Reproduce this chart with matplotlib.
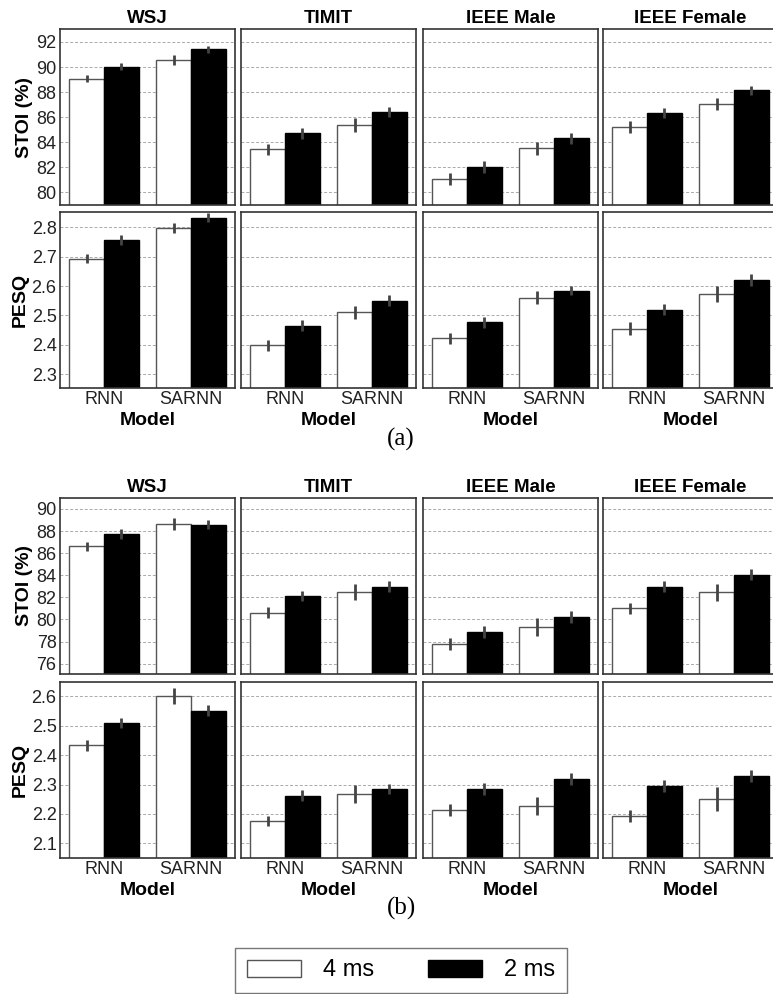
import numpy as np
import matplotlib
matplotlib.use("Agg")
import matplotlib.pyplot as plt
from matplotlib.patches import Patch

plt.rcParams['font.family'] = ['Liberation Sans', 'DejaVu Sans']

datasets = ['WSJ', 'TIMIT', 'IEEE Male', 'IEEE Female']
models = ['RNN', 'SARNN']

# (a) values per dataset: [RNN, SARNN]
a_stoi_4ms = [[89.08, 90.55], [83.44, 85.38], [81.08, 83.52], [85.22, 87.07]]
a_stoi_2ms = [[90.03, 91.42], [84.71, 86.41], [82.01, 84.31], [86.33, 88.16]]
a_stoi_err_4ms = [[0.3, 0.4], [0.45, 0.53], [0.45, 0.52], [0.45, 0.49]]
a_stoi_err_2ms = [[0.3, 0.27], [0.42, 0.42], [0.48, 0.44], [0.4, 0.36]]

a_pesq_4ms = [[2.693, 2.797], [2.399, 2.511], [2.422, 2.561], [2.455, 2.572]]
a_pesq_2ms = [[2.757, 2.833], [2.465, 2.550], [2.476, 2.584], [2.520, 2.620]]
a_pesq_err_4ms = [[0.015, 0.018], [0.019, 0.022], [0.019, 0.023], [0.021, 0.027]]
a_pesq_err_2ms = [[0.016, 0.016], [0.019, 0.018], [0.019, 0.016], [0.02, 0.02]]

# (b)
b_stoi_4ms = [[86.62, 88.64], [80.62, 82.46], [77.76, 79.32], [81.01, 82.46]]
b_stoi_2ms = [[87.71, 88.58], [82.15, 82.97], [78.90, 80.23], [82.97, 84.06]]
b_stoi_err_4ms = [[0.42, 0.53], [0.5, 0.71], [0.54, 0.78], [0.51, 0.78]]
b_stoi_err_2ms = [[0.45, 0.42], [0.47, 0.47], [0.54, 0.56], [0.5, 0.5]]

b_pesq_4ms = [[2.433, 2.601], [2.176, 2.268], [2.214, 2.227], [2.193, 2.251]]
b_pesq_2ms = [[2.509, 2.551], [2.262, 2.286], [2.286, 2.319], [2.296, 2.330]]
b_pesq_err_4ms = [[0.019, 0.026], [0.017, 0.03], [0.02, 0.032], [0.02, 0.04]]
b_pesq_err_2ms = [[0.018, 0.018], [0.018, 0.017], [0.02, 0.02], [0.02, 0.02]]

W, H = 773, 994
fig = plt.figure(figsize=(W / 100, H / 100), dpi=100)

col_x = [60, 241, 423, 603]
ax_w = 175


def add_ax(x0, y_top, y_bot):
    return fig.add_axes([x0 / W, 1 - y_bot / H, ax_w / W, (y_bot - y_top) / H])


def draw_row(y_top, y_bot, v4, v2, e4, e2, ylim, yticks, fmt, ylabel, top, bottom):
    for j, name in enumerate(datasets):
        ax = add_ax(col_x[j], y_top, y_bot)
        x = np.arange(len(models))
        ax.bar(x - 0.2, v4[j], 0.4, color='white', edgecolor='#555555', linewidth=1.0, zorder=2)
        ax.bar(x + 0.2, v2[j], 0.4, color='black', edgecolor='black', linewidth=1.0, zorder=2)
        ax.errorbar(x - 0.2, v4[j], yerr=e4[j], fmt='none', ecolor='#444444', elinewidth=2, capsize=0, zorder=3)
        ax.errorbar(x + 0.2, v2[j], yerr=e2[j], fmt='none', ecolor='#444444', elinewidth=2, capsize=0, zorder=3)
        ax.set_xlim(-0.506, 1.506)
        ax.set_ylim(*ylim)
        ax.set_yticks(yticks)
        ax.yaxis.grid(True, linestyle=(0, (3, 2)), color='#aaaaaa', linewidth=0.7, zorder=0)
        ax.set_axisbelow(True)
        for s in ax.spines.values():
            s.set_color('#333333')
            s.set_linewidth(1.2)
        ax.tick_params(length=0, labelsize=13, colors='#222222', pad=2.5)
        if j == 0:
            ax.set_yticklabels([fmt.format(t) for t in yticks])
            ax.set_ylabel(ylabel, fontsize=14, fontweight='bold', labelpad=2)
        else:
            ax.set_yticklabels([])
        if bottom:
            ax.set_xticks(x)
            ax.set_xticklabels(models)
            ax.set_xlabel('Model', fontsize=14, fontweight='bold', labelpad=2.5)
        else:
            ax.set_xticks([])
        if top:
            ax.set_title(name, fontsize=13.5, fontweight='bold', pad=4)


# (a)
draw_row(29, 205, a_stoi_4ms, a_stoi_2ms, a_stoi_err_4ms, a_stoi_err_2ms,
         (79, 93.03), np.arange(80, 93, 2), '{:.0f}', 'STOI (%)', True, False)
draw_row(212, 388, a_pesq_4ms, a_pesq_2ms, a_pesq_err_4ms, a_pesq_err_2ms,
         (2.253, 2.852), np.arange(2.3, 2.85, 0.1), '{:.1f}', 'PESQ', False, True)
fig.text(401 / W, 1 - 439 / H, '(a)', ha='center', va='center', fontsize=18, family='Liberation Serif')

# (b)
draw_row(497.7, 674.3, b_stoi_4ms, b_stoi_2ms, b_stoi_err_4ms, b_stoi_err_2ms,
         (75.04, 91.02), np.arange(76, 91, 2), '{:.0f}', 'STOI (%)', True, False)
draw_row(681.7, 857.7, b_pesq_4ms, b_pesq_2ms, b_pesq_err_4ms, b_pesq_err_2ms,
         (2.051, 2.65), np.arange(2.1, 2.65, 0.1), '{:.1f}', 'PESQ', False, True)
fig.text(401 / W, 1 - 908 / H, '(b)', ha='center', va='center', fontsize=18, family='Liberation Serif')

handles = [Patch(facecolor='white', edgecolor='#555555', label='4 ms'),
           Patch(facecolor='black', edgecolor='black', label='2 ms')]
leg = fig.legend(handles=handles, loc='center', bbox_to_anchor=(401 / W, 1 - 970.5 / H), ncol=2,
                 fontsize=17, frameon=True, fancybox=False, edgecolor='#555555',
                 handlelength=2.3, handleheight=0.7, handletextpad=0.9, columnspacing=2.3,
                 borderpad=0.5)
leg.get_frame().set_linewidth(1.0)

fig.savefig('out.png', dpi=100)
